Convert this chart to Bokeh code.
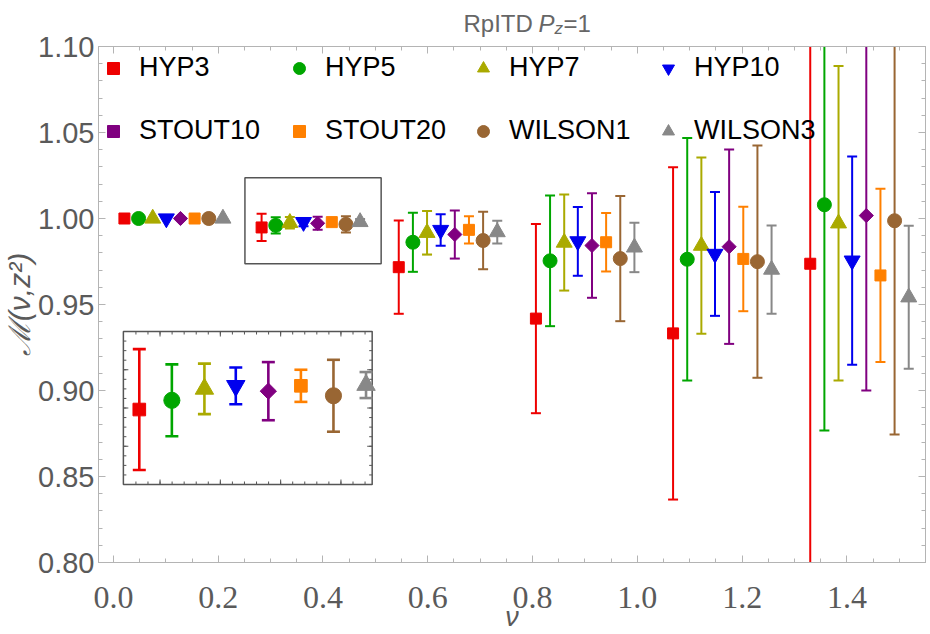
import numpy as np
from bokeh.plotting import figure
from bokeh.models import (ColumnDataSource, Range1d, LinearAxis, FixedTicker, NumeralTickFormatter,
                          BoxAnnotation, Legend, LegendItem, Label, CustomLabelingPolicy)
from bokeh.layouts import column
from bokeh.embed import file_html
from bokeh.resources import INLINE

# Ioffe time nu = 2*pi*z/24 at P_z = 1, for z = 0..5
nu_z = [0.0, 0.2618, 0.5236, 0.7854, 1.0472, 1.3090]
# horizontal shift of each smearing so the points do not overlap
nu_shift = [0.021, 0.048, 0.075, 0.101, 0.128, 0.155, 0.182, 0.209]

names = ["HYP3", "HYP5", "HYP7", "HYP10", "STOUT10", "STOUT20", "WILSON1", "WILSON3"]

m_hyp3 = [1.000, 0.9948, 0.9717, 0.9418, 0.9332, 0.9737]
e_hyp3 = [0.0, 0.0079, 0.0271, 0.0550, 0.0966, 0.2500]
m_hyp5 = [1.000, 0.9960, 0.9862, 0.9754, 0.9763, 1.0080]
e_hyp5 = [0.0, 0.0047, 0.0172, 0.0380, 0.0705, 0.1313]
m_hyp7 = [1.000, 0.9975, 0.9917, 0.9860, 0.9842, 0.9972]
e_hyp7 = [0.0, 0.0033, 0.0127, 0.0279, 0.0512, 0.0914]
m_hyp10 = [1.000, 0.9979, 0.9933, 0.9867, 0.9794, 0.9755]
e_hyp10 = [0.0, 0.0024, 0.0092, 0.0200, 0.0360, 0.0605]
m_stout10 = [1.000, 0.9972, 0.9907, 0.9843, 0.9836, 1.0017]
e_stout10 = [0.0, 0.0038, 0.0140, 0.0304, 0.0565, 0.1017]
m_stout20 = [1.000, 0.9979, 0.9934, 0.9862, 0.9765, 0.9669]
e_stout20 = [0.0, 0.0021, 0.0079, 0.0170, 0.0304, 0.0504]
m_wilson1 = [1.000, 0.9966, 0.9872, 0.9767, 0.9749, 0.9987]
e_wilson1 = [0.0, 0.0047, 0.0167, 0.0364, 0.0675, 0.1243]
m_wilson3 = [1.000, 0.9980, 0.9921, 0.9832, 0.9703, 0.9542]
e_wilson3 = [0.0, 0.0017, 0.0066, 0.0144, 0.0257, 0.0416]

values = [m_hyp3, m_hyp5, m_hyp7, m_hyp10, m_stout10, m_stout20, m_wilson1, m_wilson3]
errors = [e_hyp3, e_hyp5, e_hyp7, e_hyp10, e_stout10, e_stout20, e_wilson1, e_wilson3]

colors = ["#ee0000", "#00a600", "#aaaa00", "#0000ee", "#800080", "#ff8000", "#996633", "#888888"]
markers = ["square", "circle", "triangle", "inverted_triangle", "square", "square", "circle", "triangle"]
angles = [0, 0, 0, 0, np.pi / 4, 0, 0, 0]
sizes = [11, 14, 16, 16, 10, 11, 14, 16]

# window marked on the main axes and the window shown enlarged in the inset
zoom_box = [0.251, 0.511, 0.9737, 1.0237]
inset_nu = [0.2696, 0.4759]
inset_m = [0.985, 1.005]

AX = "#b4b4b4"
TXT = "#5a5a5a"
FONT = "Liberation Sans"

# plot frame in pixels (left, right, top, bottom) inside the 930 x 634 canvas
W, H = 930, 634
FL, FR, FT, FB = 97, 928, 46, 562
# inset box in canvas pixels (left, right, top, bottom)
IL, IR, IT, IB = 122, 372, 331, 484

p = figure(width=W, height=H, x_range=Range1d(-0.0285, 1.55), y_range=Range1d(0.80, 1.10),
           output_backend="svg", toolbar_location=None, title=None,
           x_axis_location=None, y_axis_location=None,
           min_border_left=FL, min_border_right=W - FR, min_border_top=FT, min_border_bottom=H - FB)
p.xgrid.visible = False
p.ygrid.visible = False
p.outline_line_color = AX
p.background_fill_color = "white"
p.border_fill_color = "white"

yt = FixedTicker(ticks=list(np.round(np.arange(0.80, 1.1001, 0.05), 3)),
                 minor_ticks=list(np.round(np.arange(0.80, 1.1001, 0.01), 3)))
xt = FixedTicker(ticks=list(np.round(np.arange(0.0, 1.5001, 0.2), 3)),
                 minor_ticks=list(np.round(np.arange(0.0, 1.5501, 0.05), 3)))


def style_axis(ax, show_labels):
    ax.axis_line_color = AX
    ax.major_tick_line_color = AX
    ax.minor_tick_line_color = AX
    ax.major_tick_in = 7
    ax.major_tick_out = 0
    ax.minor_tick_in = 4
    ax.minor_tick_out = 0
    if not show_labels:
        ax.major_label_policy = CustomLabelingPolicy(code="return []")
        ax.major_label_text_font_size = "1px"
        ax.major_label_standoff = 0


left = LinearAxis(ticker=yt, formatter=NumeralTickFormatter(format="0.00"))
style_axis(left, True)
left.major_label_text_font = FONT
left.major_label_text_font_size = "29px"
left.major_label_text_color = TXT
left.major_label_standoff = 4
left.axis_label = "ℳ(ν,z²)"
left.axis_label_text_font = FONT
left.axis_label_text_font_size = "30px"
left.axis_label_text_font_style = "italic"
left.axis_label_text_color = TXT
left.axis_label_standoff = -1
p.add_layout(left, "left")

bottom = LinearAxis(ticker=xt, formatter=NumeralTickFormatter(format="0.0"))
style_axis(bottom, True)
bottom.major_label_text_font = "Liberation Sans Narrow"
bottom.major_label_text_font_size = "32px"
bottom.major_label_text_color = TXT
bottom.major_label_standoff = 24
bottom.axis_label = "ν"
bottom.axis_label_text_font = FONT
bottom.axis_label_text_font_size = "27px"
bottom.axis_label_text_font_style = "italic"
bottom.axis_label_text_color = TXT
bottom.axis_label_standoff = -9
p.add_layout(bottom, "below")

right = LinearAxis(ticker=yt)
style_axis(right, False)
p.add_layout(right, "right")
top = LinearAxis(ticker=xt)
style_axis(top, False)
p.add_layout(top, "above")

# secondary ranges that map the inset window onto its box inside the frame
sx = (inset_nu[1] - inset_nu[0]) / (IR - IL)
sy = (inset_m[1] - inset_m[0]) / (IB - IT)
p.extra_x_ranges = {"ix": Range1d(inset_nu[0] - (IL - FL) * sx, inset_nu[0] + (FR - IL) * sx)}
p.extra_y_ranges = {"iy": Range1d(inset_m[0] - (FB - IB) * sy, inset_m[0] + (IB - FT) * sy)}

p.add_layout(BoxAnnotation(left=inset_nu[0], right=inset_nu[1], bottom=inset_m[0], top=inset_m[1],
                           x_range_name="ix", y_range_name="iy", level="underlay",
                           fill_color="white", fill_alpha=1, line_color="#555555",
                           line_alpha=1, line_width=1.5))

# inward frame ticks of the inset
ity_major = [0.985, 0.99, 0.995, 1.0, 1.005]
ity_minor = list(np.round(np.arange(0.985, 1.0051, 0.00125), 5))
itx_major = [0.3, 0.35, 0.4, 0.45]
itx_minor = list(np.round(np.arange(0.28, 0.4701, 0.01), 3))
tick_src = []
for ticks, ln in ((ity_major, 5), (ity_minor, 3)):
    for edge, sgn in ((inset_nu[0], 1), (inset_nu[1], -1)):
        tick_src.append(dict(x0=[edge] * len(ticks), x1=[edge + sgn * ln * sx] * len(ticks),
                             y0=ticks, y1=ticks))
for ticks, ln in ((itx_major, 5), (itx_minor, 3)):
    for edge, sgn in ((inset_m[0], 1), (inset_m[1], -1)):
        tick_src.append(dict(x0=ticks, x1=ticks, y0=[edge] * len(ticks),
                             y1=[edge + sgn * ln * sy] * len(ticks)))
for d in tick_src:
    p.segment(x0="x0", y0="y0", x1="x1", y1="y1", source=ColumnDataSource(d),
              x_range_name="ix", y_range_name="iy", line_color="#555555", line_width=1)

legend_groups = [[], [], [], []]
for i, name in enumerate(names):
    xs = [n + nu_shift[i] for n in nu_z]
    ys = values[i]
    es = errors[i]
    src = ColumnDataSource(dict(x=xs, y=ys))
    keep = [k for k in range(len(xs)) if es[k] > 0]
    bars = ColumnDataSource(dict(x=[xs[k] for k in keep],
                                 lo=[ys[k] - es[k] for k in keep],
                                 hi=[ys[k] + es[k] for k in keep]))
    inset_src = ColumnDataSource(dict(x=[xs[1]], y=[ys[1]]))
    inset_bar = ColumnDataSource(dict(x=[xs[1]], lo=[ys[1] - es[1]], hi=[ys[1] + es[1]]))
    c = colors[i]
    for s_pts, s_bar, lw, cap, scale, xr, yr in (
            (src, bars, 2, 10, 1.0, "default", "default"),
            (inset_src, inset_bar, 2.6, 13, 1.15, "ix", "iy")):
        p.segment(x0="x", y0="lo", x1="x", y1="hi", source=s_bar, line_color=c, line_width=lw,
                  x_range_name=xr, y_range_name=yr)
        for end in ("lo", "hi"):
            p.scatter(x="x", y=end, source=s_bar, marker="dash", size=cap, line_color=c,
                      line_width=lw, x_range_name=xr, y_range_name=yr)
        r = p.scatter(x="x", y="y", source=s_pts, marker=markers[i], size=sizes[i] * scale,
                      angle=angles[i], fill_color=c, line_color=c, line_width=1,
                      x_range_name=xr, y_range_name=yr)
        if xr == "default":
            legend_groups[i % 4].append(LegendItem(label=name, renderers=[r]))

# legend: four columns of two rows
col_x = [0, 186, 370, 555]
for j in range(4):
    lg = Legend(items=legend_groups[j], location=(col_x[j], 416), orientation="vertical",
                background_fill_alpha=0, border_line_color=None, padding=0, margin=0,
                glyph_width=30, glyph_height=30, label_height=30, spacing=32,
                label_standoff=11, label_text_font=FONT, label_text_font_size="27px",
                label_text_color="black")
    p.add_layout(lg, "center")

p.add_layout(BoxAnnotation(left=zoom_box[0], right=zoom_box[1], bottom=zoom_box[2], top=zoom_box[3],
                           fill_alpha=0, line_color="#555555", line_alpha=1, line_width=1.5))

# title strip laid over the top margin: "RpITD P_z=1"
head = figure(width=W, height=FT, x_range=Range1d(0, 1), y_range=Range1d(0, 1),
              output_backend="svg", toolbar_location=None, title=None,
              x_axis_location=None, y_axis_location=None,
              min_border_left=FL, min_border_right=W - FR, min_border_top=0, min_border_bottom=0,
              styles={"position": "absolute", "left": "0px", "top": "0px", "z-index": "5"})
head.xgrid.visible = False
head.ygrid.visible = False
head.outline_line_color = None
head.background_fill_alpha = 0
head.border_fill_alpha = 0
title_parts = [("RpITD", 365, 23, "normal", "24px"),
               ("P", 440, 23, "italic", "24px"),
               ("z", 456, 18, "italic", "17px"),
               ("=1", 465, 23, "normal", "24px")]
for txt, tx, ty, style, fs in title_parts:
    head.add_layout(Label(x=tx, y=ty, x_units="screen", y_units="screen", text=txt,
                          text_font=FONT, text_font_size=fs, text_font_style=style,
                          text_color="#666666", text_baseline="alphabetic", text_align="left"))

layout = column(p, head)
open("out.html", "w").write(file_html(layout, INLINE))
